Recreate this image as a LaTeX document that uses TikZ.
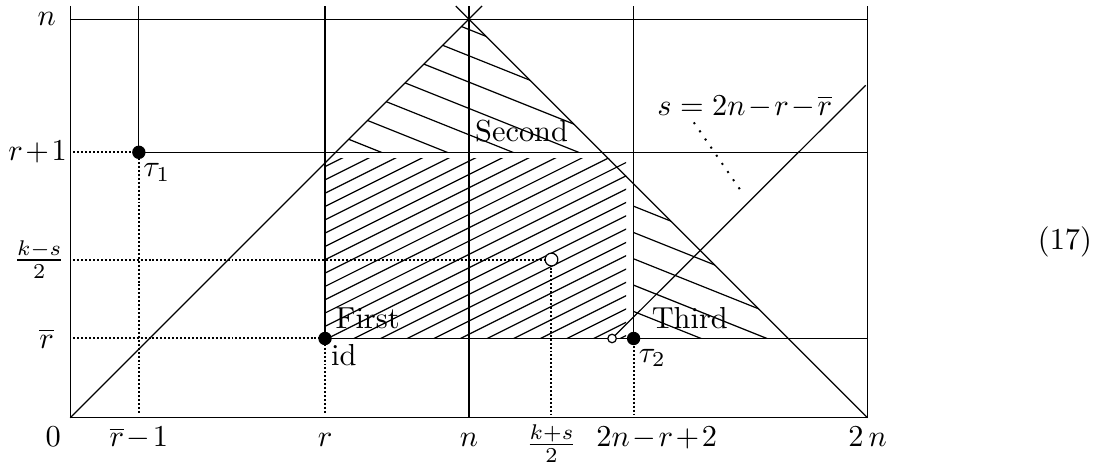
\documentclass[tikz,border=0pt]{standalone}
\usepackage{amsmath,amssymb}
\usepackage{tikz}
\usetikzlibrary{positioning}
\medmuskip=1.5mu

\begin{document}
\begin{tikzpicture}[
  x=0.461cm,
  y=0.461cm,
  gridline/.style={line width=0.4pt},
  hatch/.style={line width=0.4pt},
  guide/.style={line width=0.65pt, dash pattern=on 0.65pt off 0.65pt},
  sparse/.style={line width=0.65pt, dash pattern=on 0.65pt off 2.6pt},
  dot/.style={circle, fill, inner sep=0pt, minimum size=4.4pt},
  hole/.style={circle, draw, fill=white, inner sep=0pt, minimum size=4.2pt},
  smallhole/.style={circle, draw, fill=white, inner sep=0pt, minimum size=2.8pt},
  axislabel/.style={anchor=base},
  region/.style={anchor=base}
]
\useasboundingbox (-1.763,-1.156) rectangle (26.18,10.48);

\begin{scope}
\clip (6.39,1.99) rectangle (13.94,6.51);
\foreach \k in {-13,...,13}
  \draw[hatch] (6.39,{2.294+0.334*\k}) -- ++(8,4);
\end{scope}

\begin{scope}
\clip (6.66,6.66) -- (13.34,6.66) -- (10,10) -- cycle;
\foreach \k in {-1,...,7}
  \draw[hatch] (6,{9.78+0.66*\k-2.4}) -- ++(8,-3.2);
\end{scope}

\begin{scope}
\clip (14.13,1.99) -- (18.01,1.99) -- (14.13,5.87) -- cycle;
\foreach \k in {-1,...,6}
  \draw[hatch] (14,{7.66+0.66*\k-5.6}) -- ++(6,-2.4);
\end{scope}

\coordinate (tauA) at (1.72,6.66);
\coordinate (idp) at (6.39,1.99);
\coordinate (tauB) at (14.13,1.99);
\coordinate (half) at (12.07,3.97);
\coordinate (sstart) at (13.59,1.99);
\coordinate (send) at (19.95,8.34);
\coordinate (stail) at (15.64,7.41);
\coordinate (shead) at (16.90,5.58);

\draw[gridline] (0,10.33) -- (0,0) -- (20,0) -- (20,10.33);
\draw[gridline] (0,10) -- (20,10);
\draw[gridline] (10,0) -- (10,10.33);
\draw[gridline] (tauA) -- (1.72,10.33);
\draw[gridline] (tauA) -- (20,6.66);
\draw[gridline] (idp) -- (6.39,10.33);
\draw[gridline] (idp) -- (20,1.99);
\draw[gridline] (tauB) -- (14.13,10.33);
\draw[gridline] (0,0) -- (10.33,10.33);
\draw[gridline] (20,0) -- (9.67,10.33);
\draw[gridline] (sstart) -- (send);

\draw[guide] (0.08,6.66) -- (tauA) -- (1.72,0.1);
\draw[guide] (0.08,1.99) -- (idp) -- (6.39,0.1);
\draw[guide] (0.08,3.97) -- (half) -- (12.07,0.1);
\draw[guide] (tauB) -- (14.13,0.1);
\draw[sparse] (stail) -- (shead);

\node[dot] (tauAdot) at (tauA) {};
\node[dot] (iddot) at (idp) {};
\node[dot] (tauBdot) at (tauB) {};
\node[hole] (halfdot) at (half) {};
\node[smallhole] (sdot) at (sstart) {};

\node[axislabel] (lab0) at (-0.43,-0.73) {$0$};
\node[axislabel] (labA) at (1.72,-0.73) {$\overline{r}-1$};
\node[axislabel] (labR) at (6.39,-0.73) {$r$};
\node[axislabel] (labN) at (10,-0.73) {$n$};
\node[axislabel] (labK) at (12.07,-0.85) {$\frac{k+s}{2}$};
\node[axislabel] (labT) at (14.71,-0.73) {$2n-r+2$};
\node[axislabel] (lab2n) at (20,-0.73) {$2\,n$};

\node (labNy) at (-0.59,10) {$n$};
\node (labRy) at (-0.82,6.66) {$r+1$};
\node (labKy) at (-0.78,3.97) {$\frac{k-s}{2}$};
\node (labBy) at (-0.59,1.99) {$\overline{r}$};

\node (tauAlab) at (2.17,6.15) {$\tau_1$};
\node (idlab) at (6.86,1.58) {id};
\node (tauBlab) at (14.60,1.50) {$\tau_2$};

\node[region] (first) at (7.46,2.24) {First};
\node[region] (second) at (11.32,6.92) {Second};
\node[region] (third) at (15.54,2.24) {Third};
\node[region] (seq) at (16.92,7.59) {$s = 2n-r-\overline{r}$};

\node (eqno) at (24.95,4.42) {(17)};
\end{tikzpicture}
\end{document}
